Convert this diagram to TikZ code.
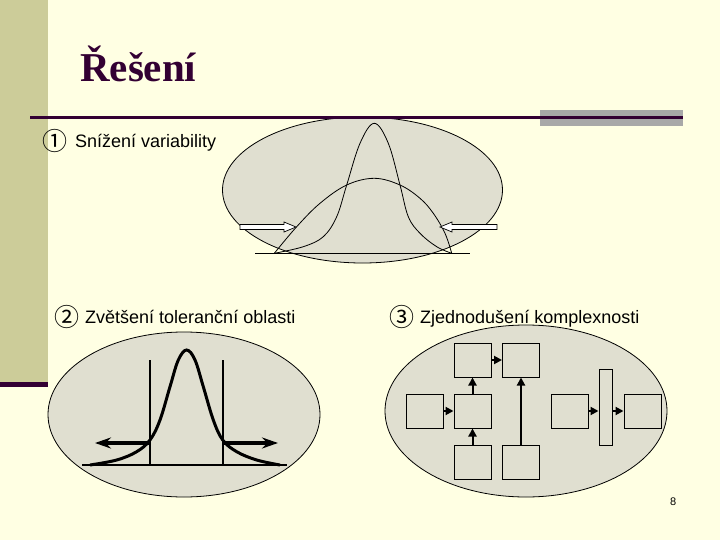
\documentclass[tikz,border=0pt]{standalone}
\usepackage{fontspec}
\setmainfont{Liberation Sans}
\newfontfamily\titlefont{Liberation Serif}
\newfontfamily\symfont{Noto Sans CJK SC}
\usetikzlibrary{arrows.meta}
\definecolor{bg}{HTML}{FFFFE3}
\definecolor{stripe}{HTML}{CCCC99}
\definecolor{plum}{HTML}{330033}
\definecolor{ellfill}{HTML}{E0DFD0}
\definecolor{greybar}{HTML}{A8A8A8}
\tikzset{
  ell/.style={fill=ellfill, draw=black, line width=0.8pt},
  itemtext/.style={anchor=base west, inner sep=0pt, font=\fontsize{18}{21}\selectfont},
  itemnum/.style={anchor=base west, inner sep=0pt, font=\symfont\fontsize{25}{27}\selectfont},
  blk/.style={draw=black, fill=ellfill, line width=1pt, minimum width=37pt, minimum height=34pt, inner sep=0pt},
  flow/.style={line width=2pt, -{Triangle[length=8pt,width=8pt]}},
  hollow/.style={draw=black, fill=white, line width=0.7pt},
  bigarrow/.style={line width=4pt, -{Stealth[length=16pt,width=11pt]}}
}
\begin{document}
\begin{tikzpicture}[x=1pt,y=-1pt]
\fill[bg] (0,0) rectangle (720,540);
\useasboundingbox (0,0) rectangle (720,540);
% left stripe
\fill[stripe] (0,0) rectangle (48,382);
\fill[plum] (0,382) rectangle (48,387);
% title
\node[anchor=base west, inner sep=0pt, text=plum, font=\titlefont\bfseries\fontsize{41}{44}\selectfont] (title) at (80,82) {Řešení};
% ellipse 1
\draw[ell] (362.5,190) circle [x radius=140pt, y radius=73pt];
% header rule
\fill[greybar] (540,110) rectangle (683,126);
\draw[plum, line width=3pt] (30,118) -- (683,118);
% item 1
\node[itemnum] (n1) at (42,151) {①};
\node[itemtext] (t1) at (75,148) {Snížení variability};
\draw[line width=1pt] (255,253) -- (470,253);
\draw[line width=0.8pt] plot[smooth, tension=0.6] coordinates {(274.3,253.3) (296.7,226.7) (320,203.3) (346.7,185) (374.3,178.3) (400,185) (420,198.3) (433.3,213.3) (445,233.3) (451.7,253.3)};
\draw[line width=0.8pt] plot[smooth, tension=0.6] coordinates {(274.3,253.3) (303.3,246.7) (323.3,236.7) (336.7,216.7) (346.7,185) (360,143.3) (374.3,123.3) (388.3,143.3) (400,185) (408.3,216.7) (420,233.3) (436.7,246.7) (451.7,253.3)};
\draw[hollow] (240,224.5) -- (284,224.5) -- (284,222) -- (296,227) -- (284,232) -- (284,229.5) -- (240,229.5) -- cycle;
\draw[hollow] (497,224.5) -- (452,224.5) -- (452,222) -- (440,227) -- (452,232) -- (452,229.5) -- (497,229.5) -- cycle;
% item 2
\node[itemnum] (n2) at (54,326) {②};
\node[itemtext] (t2) at (85,323) {Zvětšení toleranční oblasti};
\draw[ell] (184,414.5) circle [x radius=136pt, y radius=82.5pt];
\draw[line width=2.5pt] (82,465) -- (287,465);
\coordinate (vl) at (150,443);
\coordinate (vr) at (223,443);
\draw[line width=2.5pt] (150,360) -- (150,465);
\draw[line width=2.5pt] (223,360) -- (223,465);
\draw[line width=3pt] plot[smooth, tension=0.6] coordinates {(90,465) (116.7,460) (136.7,451.7) (150,440) (160,420) (170,386.7) (178.3,360) (186.7,350) (195,360) (203.3,386.7) (213.3,420) (222.7,440) (236.7,451.7) (256.7,460) (280,465)};
\coordinate (al) at (95,443);
\coordinate (ar) at (278,443);
\draw[bigarrow] (vl) -- (al);
\draw[bigarrow] (vr) -- (ar);
% item 3
\node[itemnum] (n3) at (389,326) {③};
\node[itemtext] (t3) at (420,323) {Zjednodušení komplexnosti};
\draw[ell] (526,411) circle [x radius=141pt, y radius=86pt];
\node[blk] (b1) at (472.5,360) {};
\node[blk] (b2) at (521,360) {};
\node[blk] (b3) at (425,411) {};
\node[blk] (b4) at (472.5,411) {};
\node[blk] (b5) at (472.5,462.5) {};
\node[blk] (b6) at (521,462.5) {};
\node[blk] (b7) at (569.5,411) {};
\node[blk, minimum width=13pt, minimum height=76pt] (bar) at (605.5,407) {};
\node[blk] (b8) at (642.5,411) {};
\draw[flow] (b3) -- (b4);
\draw[flow] (b4) -- (b1);
\draw[flow] (b5) -- (b4);
\draw[flow] (b1) -- (b2);
\draw[flow] (b6) -- (b2);
\draw[flow] (b7.east) -- (bar.west |- b7.east);
\draw[flow] (bar.east |- b8.west) -- (b8.west);
% page number
\node[anchor=base west, inner sep=0pt, font=\fontsize{11}{13}\selectfont] (pg) at (670,505) {8};
\end{tikzpicture}
\end{document}
